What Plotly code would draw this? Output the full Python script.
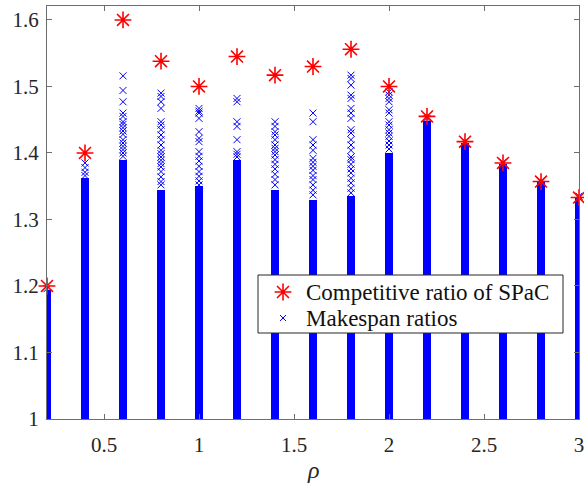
import plotly.graph_objects as go

# ---- data ----
rho = [0.2, 0.4, 0.6, 0.8, 1.0, 1.2, 1.4, 1.6, 1.8, 2.0, 2.2, 2.4, 2.6, 2.8, 3.0]
competitive_ratio = [1.2, 1.4, 1.6, 1.538, 1.5, 1.545, 1.517, 1.53, 1.556, 1.5,
                     1.455, 1.417, 1.385, 1.357, 1.333]
# top of the solid (overplotted) band of makespan ratios for each rho
dense_top = [1.194, 1.362, 1.39, 1.345, 1.35, 1.39, 1.345, 1.33, 1.335, 1.40,
             1.448, 1.415, 1.384, 1.357, 1.333]
# individually visible makespan ratios above the solid band
sparse_ratios = [
    [1.196],
    [1.385, 1.378, 1.371, 1.366],
    [1.516, 1.494, 1.477, 1.460, 1.455, 1.447, 1.443, 1.438, 1.433, 1.428, 1.42,
     1.415, 1.41, 1.405, 1.40, 1.395],
    [1.490, 1.485, 1.477, 1.467, 1.447, 1.442, 1.435, 1.427, 1.420, 1.412, 1.404,
     1.399, 1.394, 1.389, 1.384, 1.379, 1.372, 1.364, 1.357, 1.352],
    [1.467, 1.463, 1.460, 1.452, 1.432, 1.422, 1.417, 1.402, 1.395, 1.388, 1.38,
     1.372, 1.365, 1.358, 1.352],
    [1.482, 1.477, 1.447, 1.44, 1.42, 1.402, 1.398, 1.394],
    [1.447, 1.44, 1.432, 1.427, 1.42, 1.412, 1.407, 1.402, 1.397, 1.39, 1.383,
     1.376, 1.368, 1.36, 1.352],
    [1.46, 1.447, 1.42, 1.412, 1.404, 1.392, 1.386, 1.38, 1.374, 1.366, 1.36,
     1.352, 1.344, 1.337],
    [1.517, 1.512, 1.502, 1.487, 1.482, 1.467, 1.46, 1.452, 1.435, 1.43, 1.42,
     1.412, 1.404, 1.394, 1.39, 1.383, 1.376, 1.37, 1.362, 1.355, 1.347, 1.34],
    [1.492, 1.487, 1.482, 1.477, 1.465, 1.46, 1.447, 1.442, 1.435, 1.43, 1.425,
     1.418, 1.412, 1.406],
    [1.452],
    [1.417],
    [1.386],
    [1.358],
    [1.335],
]
x_ticks = [0.5, 1, 1.5, 2, 2.5, 3]
x_tick_text = ["0.5", "1", "1.5", "2", "2.5", "3"]
y_ticks = [1, 1.1, 1.2, 1.3, 1.4, 1.5, 1.6]
y_tick_text = ["1", "1.1", "1.2", "1.3", "1.4", "1.5", "1.6"]
legend_labels = ["Competitive ratio of SPaC", "Makespan ratios"]

BLUE = "#0000ff"
RED = "#ff0000"
FONT = "Liberation Serif"

# plot area in pixels (for placing the legend box in paper units)
L, R, T, B = 47, 579, 6, 419
def px_x(p):
    return (p - L) / (R - L)
def px_y(p):
    return (B - p) / (B - T)

sx, sy = [], []
for r, vals in zip(rho, sparse_ratios):
    for v in vals:
        sx.append(r)
        sy.append(v)

RED_MARKER = dict(symbol="asterisk-open", size=14, color=RED,
                  line=dict(width=1.6, color=RED))
BLUE_MARKER = dict(symbol="x-thin-open", size=7, color=BLUE,
                   line=dict(width=1, color=BLUE))

fig = go.Figure()

# solid band (overlapping markers)
fig.add_trace(go.Bar(
    x=rho, y=[t - 1 for t in dense_top], base=[1] * len(rho),
    width=0.044, marker=dict(color=BLUE, line=dict(width=0)),
    showlegend=False, hoverinfo="skip",
))
fig.add_trace(go.Scatter(
    x=sx, y=sy, mode="markers", name=legend_labels[1],
    marker=BLUE_MARKER, cliponaxis=False, showlegend=False,
))
fig.add_trace(go.Scatter(
    x=rho, y=competitive_ratio, mode="markers", name=legend_labels[0],
    marker=RED_MARKER, cliponaxis=False, showlegend=False,
))

# ---- legend box (MATLAB style) drawn on an overlay in paper units ----
bx0, bx1 = px_x(258), px_x(563)
by0, by1 = px_y(333), px_y(275)
fig.add_trace(go.Scatter(
    x=[bx0, bx1, bx1, bx0, bx0], y=[by0, by0, by1, by1, by0],
    xaxis="x2", yaxis="y2", mode="lines", fill="toself",
    fillcolor="white", line=dict(color="#262626", width=1),
    showlegend=False, hoverinfo="skip",
))
fig.add_trace(go.Scatter(
    x=[px_x(283)], y=[px_y(292)], xaxis="x2", yaxis="y2", mode="markers",
    marker=RED_MARKER, showlegend=False, hoverinfo="skip",
))
fig.add_trace(go.Scatter(
    x=[px_x(283)], y=[px_y(318)], xaxis="x2", yaxis="y2", mode="markers",
    marker=dict(symbol="x-thin-open", size=6, color=BLUE,
                line=dict(width=1, color=BLUE)),
    showlegend=False, hoverinfo="skip",
))

axis_common = dict(
    showline=True, linecolor="#6e6e6e", linewidth=1, mirror="ticks",
    ticks="inside", ticklen=5, tickcolor="#6e6e6e", showgrid=False,
    zeroline=False, automargin=False, ticklabeloverflow="allow",
    tickfont=dict(family=FONT, size=21, color="#262626"),
)

fig.update_layout(
    width=584, height=485,
    margin=dict(l=L, r=584 - R, t=T, b=485 - B),
    paper_bgcolor="white", plot_bgcolor="white",
    bargap=0,
    font=dict(family=FONT, size=21, color="#262626"),
    xaxis=dict(range=[0.2, 3.0], tickvals=x_ticks, ticktext=x_tick_text,
               ticklabelstandoff=7, **axis_common),
    yaxis=dict(range=[1.0, 1.621], tickvals=y_ticks, ticktext=y_tick_text,
               ticklabelstandoff=3, **axis_common),
    xaxis2=dict(overlaying="x", range=[0, 1], visible=False, anchor="y2"),
    yaxis2=dict(overlaying="y", range=[0, 1], visible=False, anchor="x2"),
    showlegend=False,
    annotations=[
        dict(text="<i>ρ</i>", x=0.5, y=px_y(470), xref="paper", yref="paper",
             xanchor="center", yanchor="middle", showarrow=False,
             font=dict(family=FONT, size=24, color="#262626")),
        dict(text=legend_labels[0], x=px_x(304), y=px_y(292.5), xref="paper",
             yref="paper", xanchor="left", yanchor="middle", showarrow=False,
             font=dict(family=FONT, size=23, color="#111111")),
        dict(text=legend_labels[1], x=px_x(304), y=px_y(318.5), xref="paper",
             yref="paper", xanchor="left", yanchor="middle", showarrow=False,
             font=dict(family=FONT, size=23, color="#111111")),
    ],
)

fig.write_html("out.html", config={"displayModeBar": False},
               post_script="document.body.style.margin='0';")
